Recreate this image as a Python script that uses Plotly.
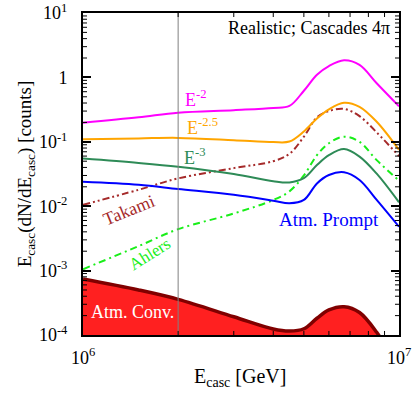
import math
import plotly.graph_objects as go

# ---- data ----
energy = [1e6, 1.5e6, 2e6, 3e6, 4e6, 4.5e6, 5e6, 5.5e6, 6e6, 6.7e6, 7.5e6, 8.5e6, 1e7]
e_m2   = [0.198, 0.24, 0.283, 0.31, 0.335, 0.36, 0.62, 1.1, 1.5, 1.84, 1.56, 0.81, 0.355]
e_m25  = [0.110, 0.113, 0.115, 0.106, 0.099, 0.101, 0.145, 0.23, 0.32, 0.405, 0.35, 0.205, 0.075]
e_m3   = [0.055, 0.047, 0.041, 0.0316, 0.0245, 0.0234, 0.0272, 0.0436, 0.062, 0.077, 0.059, 0.032, 0.0115]
prompt = [0.024, 0.0215, 0.0185, 0.015, 0.0122, 0.0111, 0.0125, 0.0226, 0.0305, 0.0336, 0.0255, 0.0125, 0.0048]
takami = [0.0105, 0.018, 0.027, 0.039, 0.050, 0.065, 0.12, 0.24, 0.30, 0.325, 0.25, 0.14, 0.06]
ahlers = [0.00105, 0.0024, 0.0044, 0.0077, 0.0125, 0.017, 0.03, 0.062, 0.095, 0.12, 0.10, 0.052, 0.025]
conv   = [7.4e-4, 5.0e-4, 3.58e-4, 1.92e-4, 1.24e-4, 1.15e-4, 1.25e-4, 1.82e-4, 2.45e-4, 2.75e-4, 2.24e-4, 1.1e-4, 3e-5]
conv_floor = [1e-6] * len(energy)
cut_energy = 2e6

y_tickvals = [1e-4, 1e-3, 1e-2, 1e-1, 1, 10]
y_ticktext = ["10<sup>-4</sup>", "10<sup>-3</sup>", "10<sup>-2</sup>", "10<sup>-1</sup>", "1", "10<sup>1</sup>"]
x_tickvals = [1e6, 1e7]
x_ticktext = ["10<sup>6</sup>", "10<sup>7</sup>"]
minor_mult = [2, 3, 4, 5, 6, 7, 8, 9]
y_minor = [m * d for d in [1e-4, 1e-3, 1e-2, 1e-1, 1] for m in minor_mult]
x_minor = [m * 1e6 for m in minor_mult]

FONT = "Liberation Serif, Times New Roman, serif"

fig = go.Figure()

# Atm. Conv. filled area
fig.add_trace(go.Scatter(x=energy, y=conv_floor, mode="lines", line=dict(width=0),
                         showlegend=False, hoverinfo="skip"))
fig.add_trace(go.Scatter(x=energy, y=conv, mode="lines", fill="tonexty",
                         fillcolor="#FF2020", line=dict(color="#800000", width=3.5, shape="spline"),
                         showlegend=False))

def line(y, color, dash="solid", width=2):
    fig.add_trace(go.Scatter(x=energy, y=y, mode="lines",
                             line=dict(color=color, width=width, dash=dash, shape="spline"),
                             showlegend=False))

line(ahlers, "#19EE19", dash="7px,4px,2px,4px")
line(takami, "#A52A2A", dash="7px,3px,2px,3px,2px,3px")
line(prompt, "#0000FF")
line(e_m3, "#2E8B57")
line(e_m25, "#FFA500")
line(e_m2, "#FF00FF")

fig.add_shape(type="line", xref="x", yref="paper", x0=cut_energy, x1=cut_energy, y0=0, y1=1,
              line=dict(color="#808080", width=1))

# minor ticks (inside, on all four sides)
for v in x_minor:
    for y0, y1 in [(0, 0.0125), (1, 1 - 0.0125)]:
        fig.add_shape(type="line", xref="x", yref="paper", x0=v, x1=v, y0=y0, y1=y1,
                      line=dict(color="black", width=1))
for v in y_minor:
    for x0, x1 in [(0, 0.0127), (1, 1 - 0.0127)]:
        fig.add_shape(type="line", xref="paper", yref="y", x0=x0, x1=x1, y0=v, y1=v,
                      line=dict(color="black", width=1))

def ann(text, x, y, color, size=18, angle=0, xanchor="center"):
    fig.add_annotation(text=text, x=x, y=y, xref="paper", yref="paper", showarrow=False,
                       font=dict(family=FONT, size=size, color=color), textangle=angle,
                       xanchor=xanchor, yanchor="middle")

# paper coords: plot area on screen x 83..399, y 13..335
def px(xp): return (xp - 83) / 316
def py(yp): return (335 - yp) / 322

ann("Realistic; Cascades 4π", px(392), py(28), "black", size=18, xanchor="right")
ann("E<sup>-2</sup>", px(196), py(99), "#FF00FF", size=18)
ann("E<sup>-2.5</sup>", px(202), py(126), "#FFA500", size=18)
ann("E<sup>-3</sup>", px(195), py(156), "#2E8B57", size=18)
ann("Takami", px(129), py(210), "#A52A2A", size=18, angle=-22)
ann("Ahlers", px(149), py(254), "#19EE19", size=17, angle=-32)
ann("Atm. Prompt", px(329), py(219), "#0000FF", size=19)
ann("Atm. Conv.", px(132), py(312), "white", size=18)

for v, t in zip(x_tickvals, x_ticktext):
    fig.add_annotation(text=t, x=math.log10(v), y=py(356), xref="x", yref="paper", showarrow=False,
                       font=dict(family=FONT, size=18, color="black"), xanchor="center", yanchor="middle")
ann("E<sub>casc</sub> [GeV]", px(240), py(377), "black", size=20)

axis_common = dict(showline=True, linecolor="black", linewidth=2, mirror="allticks",
                   ticks="inside", ticklen=8, tickwidth=1.5, tickcolor="black",
                   showgrid=False, zeroline=False,
                   tickfont=dict(family=FONT, size=18, color="black"))

fig.update_xaxes(type="log", range=[6, 7], tickvals=x_tickvals, ticktext=x_ticktext,
                 showticklabels=False, **axis_common)
fig.update_yaxes(type="log", range=[-4, 1], tickvals=y_tickvals, ticktext=y_ticktext,
                 title=dict(text="E<sub>casc</sub>(dN/dE<sub>casc</sub>) [counts]",
                            font=dict(family=FONT, size=19, color="black"), standoff=2),
                 ticklabelstandoff=10, **axis_common)

fig.update_layout(width=415, height=396, margin=dict(l=83, r=16, t=13, b=61, autoexpand=False),
                  plot_bgcolor="white", paper_bgcolor="white", showlegend=False)

# remove the default 8px page margin so the figure fills the window exactly
fig.write_html("out.html", config={"displayModeBar": False},
               post_script="document.body.style.margin='0px';")
